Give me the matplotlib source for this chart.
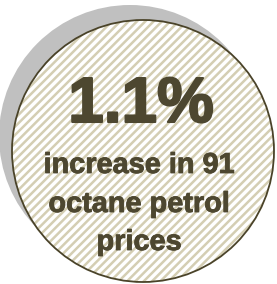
import matplotlib
matplotlib.use("Agg")
import matplotlib.pyplot as plt
from matplotlib.patches import Circle
import matplotlib.patheffects as pe

headline = "1.1%"
caption_lines = ["increase in 91", "octane petrol", "prices"]

W, H = 277, 284
plt.rcParams['hatch.linewidth'] = 1.8

fig = plt.figure(figsize=(W / 100, H / 100), dpi=100)
ax = fig.add_axes([0, 0, 1, 1])
ax.set_xlim(0, W)
ax.set_ylim(H, 0)
ax.axis('off')

cx, cy, r = 143, 151, 131
ax.add_patch(Circle((cx - 13, cy - 15), r, facecolor='#c0c0c0', edgecolor='none', zorder=1))
ax.add_patch(Circle((cx, cy), r, facecolor='white', edgecolor='#d4ceb3', linewidth=0,
                    hatch='////', zorder=2))
ax.add_patch(Circle((cx, cy), r, facecolor='none', edgecolor='#4a4329', linewidth=1.3, zorder=3))

txt_color = '#4d4730'
ax.text(141, 122, headline, ha='center', va='baseline', fontsize=46, fontweight='bold',
        family=['Liberation Sans', 'DejaVu Sans'], color=txt_color, zorder=4,
        path_effects=[pe.withStroke(linewidth=1.5, foreground=txt_color)])
ys = [173, 212, 250]
for y, line in zip(ys, caption_lines):
    ax.text(139, y, line, ha='center', va='baseline', fontsize=20.8, fontweight='bold',
            family=['Liberation Sans', 'DejaVu Sans'], color=txt_color, zorder=4,
            path_effects=[pe.withStroke(linewidth=0.6, foreground=txt_color)])

fig.savefig('out.png', dpi=100)
